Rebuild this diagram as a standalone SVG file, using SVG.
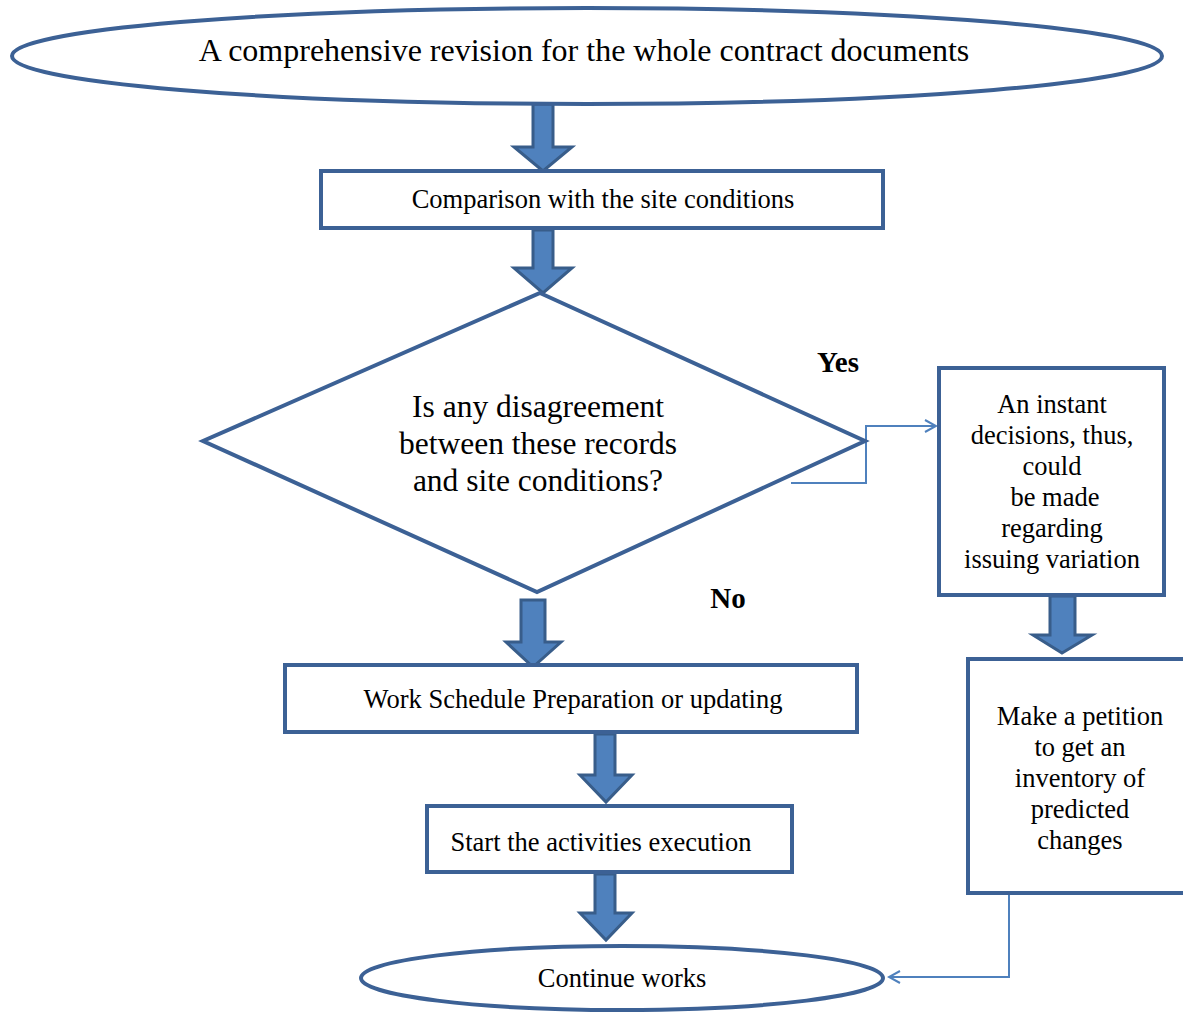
<svg xmlns="http://www.w3.org/2000/svg" width="1183" height="1013" viewBox="0 0 1183 1013">
<defs>
<style>
.shape{fill:#fff;stroke:#3c6195;stroke-width:4}
.barrow{fill:#4f81bd;stroke:#385d8a;stroke-width:3;stroke-linejoin:miter}
.conn{fill:none;stroke:#4f81bd;stroke-width:2}
text{font-family:"Liberation Serif","Times New Roman",serif;fill:#000;text-anchor:middle}
.big{font-size:32px}
.dia{font-size:31.5px}
.mid{font-size:26.5px}
.bold{font-weight:bold;font-size:29px}
</style>
<marker id="open" markerWidth="14" markerHeight="14" refX="12" refY="7" orient="auto" markerUnits="userSpaceOnUse">
<path d="M1,1 L12,7 L1,13" fill="none" stroke="#4f81bd" stroke-width="2"/>
</marker>
</defs>
<rect width="1183" height="1013" fill="#fff"/>
<g id="connectors">
<path class="barrow" d="M533,104 L553,104 L553,147 L572,147 L543,171 L514,147 L533,147 Z"/>
<path class="barrow" d="M533,230 L553,230 L553,268 L572,268 L543,293 L514,268 L533,268 Z"/>
<path class="barrow" d="M521,600 L545,600 L545,642 L561,642 L533,667 L506,642 L521,642 Z"/>
<path class="barrow" d="M595,734 L615,734 L615,775 L632,775 L606,802 L580,775 L595,775 Z"/>
<path class="barrow" d="M595,874 L615,874 L615,913 L632,913 L606,940 L580,913 L595,913 Z"/>
<path class="barrow" d="M1050,596 L1075,596 L1075,635 L1092,635 L1062,653 L1033,635 L1050,635 Z"/>
<path class="conn" d="M791,483 L866,483 L866,426 L936,426" marker-end="url(#open)"/>
<path class="conn" d="M1009,894 L1009,977 L889,977" marker-end="url(#open)"/>
</g>
<g id="start">
<ellipse class="shape" cx="587" cy="56" rx="575" ry="48"/>
<text class="big" x="584" y="61">A comprehensive revision for the whole contract documents</text>
</g>
<g id="compare">
<rect class="shape" x="321" y="171" width="562" height="57"/>
<text class="mid" x="603" y="208">Comparison with the site conditions</text>
</g>
<g id="decision">
<polygon class="shape" points="540,293 865,441 537,592 203,441"/>
<text class="dia" x="538" y="417">Is any disagreement</text>
<text class="dia" x="538" y="454">between these records</text>
<text class="dia" x="538" y="491">and site conditions?</text>
</g>
<text class="bold" x="838" y="372">Yes</text>
<text class="bold" x="728" y="608">No</text>
<g id="instant">
<rect class="shape" x="939" y="368" width="225" height="227"/>
<text class="mid" x="1052" y="413">An instant</text>
<text class="mid" x="1052" y="444">decisions, thus,</text>
<text class="mid" x="1052" y="475">could</text>
<text class="mid" x="1055" y="506">be made</text>
<text class="mid" x="1052" y="537">regarding</text>
<text class="mid" x="1052" y="568">issuing variation</text>
</g>
<g id="petition">
<rect class="shape" x="968" y="659" width="225" height="234"/>
<text class="mid" x="1080" y="725">Make a petition</text>
<text class="mid" x="1080" y="756">to get an</text>
<text class="mid" x="1080" y="787">inventory of</text>
<text class="mid" x="1080" y="818">predicted</text>
<text class="mid" x="1080" y="849">changes</text>
</g>
<g id="schedule">
<rect class="shape" x="285" y="665" width="572" height="67"/>
<text class="mid" x="573" y="708">Work Schedule Preparation or updating</text>
</g>
<g id="execute">
<rect class="shape" x="427" y="806" width="365" height="66"/>
<text class="mid" x="601" y="851">Start the activities execution</text>
</g>
<g id="continue">
<ellipse class="shape" cx="622" cy="978" rx="261" ry="32"/>
<text class="mid" x="622" y="987">Continue works</text>
</g>
</svg>
